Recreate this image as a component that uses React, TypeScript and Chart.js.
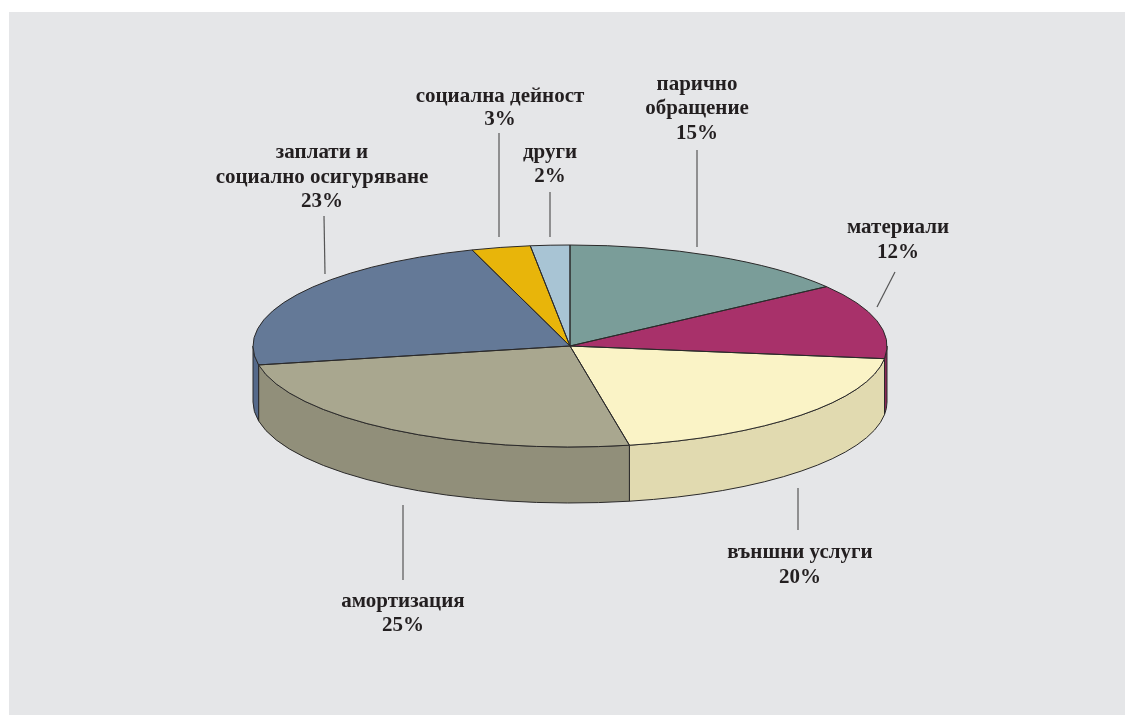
import React, { useEffect, useRef } from "react";
import { Chart, registerables } from "chart.js";

Chart.register(...registerables);

// ---- data ----
const categories: string[][] = [
  ["парично", "обращение"],
  ["материали"],
  ["външни услуги"],
  ["амортизация"],
  ["заплати и", "социално осигуряване"],
  ["социална дейност"],
  ["други"],
];
const values: number[] = [15, 12, 20, 25, 23, 3, 2];
const topColors: string[] = ["#7A9D99", "#A8316A", "#FAF3C6", "#A9A78F", "#647997", "#E8B50A", "#A8C4D4"];
const sideColors: string[] = ["#667F7C", "#8A2757", "#E1DAB0", "#918F7A", "#55698A", "#C29708", "#8EA6B4"];

// ---- layout (label anchors & leader lines) ----
const labelCenters: number[] = [697, 898, 800, 403, 322, 500, 550];
const labelBaselines: number[][] = [
  [90, 114, 139],
  [233, 258],
  [558, 583],
  [607, 631],
  [158, 183, 207],
  [102, 125],
  [158, 182],
];
const leaderLines: number[][] = [
  [697, 150, 697, 247],
  [895, 272, 877, 307],
  [798, 488, 798, 530],
  [403, 505, 403, 580],
  [324, 216, 325, 274],
  [499, 133, 499, 237],
  [550, 192, 550, 237],
];

const W = 1125;
const H = 715;
const SQUASH = 101 / 317;
const DEPTH = 56;
const EDGE = "#2B2A2A";

const pie3d = {
  id: "pie3d",
  beforeDraw(chart: any) {
    const ctx = chart.ctx;
    ctx.save();
    ctx.fillStyle = "#ffffff";
    ctx.fillRect(0, 0, W, H);
    ctx.fillStyle = "#E5E6E8";
    ctx.fillRect(9, 12, W - 9, H - 12);
    ctx.restore();
  },
  beforeDatasetsDraw(chart: any) {
    const ctx = chart.ctx;
    const meta = chart.getDatasetMeta(0);
    const arcs = meta.data;
    if (!arcs.length) return;
    const cx = arcs[0].x;
    const cy = arcs[0].y;
    const R = arcs[0].outerRadius;
    const ry = R * SQUASH;
    ctx.save();
    ctx.lineWidth = 1;
    ctx.strokeStyle = EDGE;
    arcs.forEach((arc: any, i: number) => {
      const a1 = Math.max(arc.startAngle, 0);
      const a2 = Math.min(arc.endAngle, Math.PI);
      if (a2 <= a1) return;
      ctx.beginPath();
      ctx.moveTo(cx + R * Math.cos(a1), cy + ry * Math.sin(a1));
      ctx.ellipse(cx, cy, R, ry, 0, a1, a2, false);
      ctx.lineTo(cx + R * Math.cos(a2), cy + ry * Math.sin(a2) + DEPTH);
      ctx.ellipse(cx, cy + DEPTH, R, ry, 0, a2, a1, true);
      ctx.closePath();
      ctx.fillStyle = sideColors[i];
      ctx.fill();
      ctx.stroke();
    });
    ctx.restore();
    ctx.save();
    ctx.translate(cx, cy);
    ctx.scale(1, SQUASH);
    ctx.translate(-cx, -cy);
  },
  afterDatasetsDraw(chart: any) {
    const ctx = chart.ctx;
    ctx.restore();
    const meta = chart.getDatasetMeta(0);
    const arcs = meta.data;
    if (!arcs.length) return;
    const cx = arcs[0].x;
    const cy = arcs[0].y;
    const R = arcs[0].outerRadius;
    const ry = R * SQUASH;
    ctx.save();
    ctx.lineWidth = 1;
    ctx.strokeStyle = EDGE;
    ctx.lineJoin = "round";
    arcs.forEach((arc: any) => {
      ctx.beginPath();
      ctx.moveTo(cx, cy);
      ctx.lineTo(cx + R * Math.cos(arc.startAngle), cy + ry * Math.sin(arc.startAngle));
      ctx.ellipse(cx, cy, R, ry, 0, arc.startAngle, arc.endAngle, false);
      ctx.closePath();
      ctx.stroke();
    });
    ctx.restore();
  },
  afterDraw(chart: any) {
    const ctx = chart.ctx;
    ctx.save();
    ctx.strokeStyle = "#555555";
    ctx.lineWidth = 1.2;
    leaderLines.forEach((l) => {
      ctx.beginPath();
      ctx.moveTo(l[0], l[1]);
      ctx.lineTo(l[2], l[3]);
      ctx.stroke();
    });
    ctx.fillStyle = "#231F20";
    ctx.font = 'bold 21px "Liberation Serif", "Times New Roman", serif';
    ctx.textAlign = "center";
    ctx.textBaseline = "alphabetic";
    categories.forEach((lines, i) => {
      const all = [...lines, values[i] + "%"];
      all.forEach((t, j) => {
        ctx.fillText(t, labelCenters[i], labelBaselines[i][j]);
      });
    });
    ctx.restore();
  },
};

export default function App() {
  const ref = useRef<HTMLCanvasElement | null>(null);
  useEffect(() => {
    if (!ref.current) return;
    const chart = new Chart(ref.current, {
      type: "pie",
      data: {
        labels: categories.map((c) => c.join(" ")),
        datasets: [
          {
            data: values,
            backgroundColor: topColors,
            borderWidth: 0,
            clip: false as any,
          },
        ],
      },
      options: {
        responsive: false,
        animation: false,
        events: [],
        layout: { padding: { left: 253, right: W - 887, top: 29, bottom: H - 663 } },
        plugins: {
          legend: { display: false },
          tooltip: { enabled: false },
        },
      },
      plugins: [pie3d],
    });
    return () => chart.destroy();
  }, []);
  return (
    <div style={{ position: "fixed", left: 0, top: 0, width: W, height: H, background: "#fff" }}>
      <canvas ref={ref} width={W} height={H} style={{ width: W, height: H, display: "block" }} />
    </div>
  );
}
